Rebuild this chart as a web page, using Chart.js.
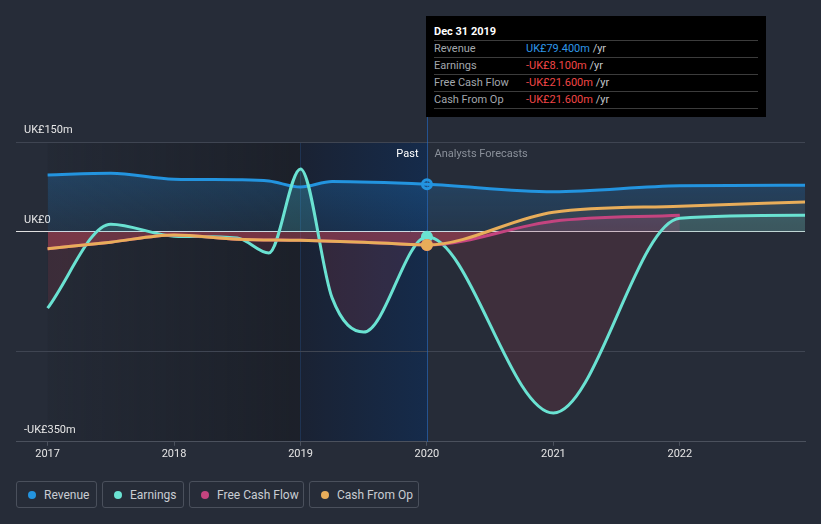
<!DOCTYPE html>
<html>
<head>
<meta charset="utf-8">
<script src="https://cdn.jsdelivr.net/npm/chart.js@4.4.0/dist/chart.umd.min.js"></script>
<style>
  html, body { margin: 0; padding: 0; background: #262c38; width: 821px; height: 524px; overflow: hidden; font-family: Roboto, sans-serif; }
  #wrap { position: relative; width: 821px; height: 524px; }
  #chart { position: absolute; left: 0; top: 0; }
  .tip { position: absolute; left: 426px; top: 16px; width: 340px; height: 101px; background: #000; }
  .tip .title { position: absolute; left: 8px; top: 8px; line-height: 15px; font-size: 11px; font-weight: bold; color: #fff; }
  .tip .rows { position: absolute; left: 8px; top: 24px; width: 324px; border-bottom: 1px solid #3c3c3c; }
  .tip .row { height: 16px; line-height: 16px; border-top: 1px solid #3c3c3c; font-size: 11px; color: #a3a7ad; white-space: nowrap; }
  .tip .row span.lbl { display: inline-block; width: 92px; }
  .tip .pos { color: #2e96e6; }
  .tip .neg { color: #f04646; }
  .tip .unit { color: #c4c6ca; }
  .legend { position: absolute; left: 16px; top: 481px; display: flex; gap: 5px; }
  .legend .item { box-sizing: border-box; height: 27px; border: 1px solid #4a505c; border-radius: 3px; padding-left: 11px; display: flex; align-items: center; font-size: 12px; color: #c9cdd3; }
  .legend .dot { width: 8px; height: 8px; border-radius: 50%; margin-right: 8px; }
</style>
</head>
<body>
<div id="wrap">
  <canvas id="chart" width="821" height="470"></canvas>
  <div class="tip">
    <div class="title">Dec 31 2019</div>
    <div class="rows">
      <div class="row"><span class="lbl">Revenue</span><span class="pos">UK£79.400m</span> <span class="unit">/yr</span></div>
      <div class="row"><span class="lbl">Earnings</span><span class="neg">-UK£8.100m</span> <span class="unit">/yr</span></div>
      <div class="row"><span class="lbl">Free Cash Flow</span><span class="neg">-UK£21.600m</span> <span class="unit">/yr</span></div>
      <div class="row"><span class="lbl">Cash From Op</span><span class="neg">-UK£21.600m</span> <span class="unit">/yr</span></div>
    </div>
  </div>
  <div class="legend">
    <div class="item" style="width:81px"><span class="dot" style="background:#2394df"></span>Revenue</div>
    <div class="item" style="width:82px"><span class="dot" style="background:#6ae2d2"></span>Earnings</div>
    <div class="item" style="width:115px"><span class="dot" style="background:#c4447f"></span>Free Cash Flow</div>
    <div class="item" style="width:110px"><span class="dot" style="background:#e8ad5a"></span>Cash From Op</div>
  </div>
</div>
<script>
// values in UK£m
const revenueYears = [2017, 2017.5, 2018, 2018.5, 2018.75, 2019, 2019.25, 2020, 2021, 2022, 2023];
const revenueValues = [95, 98, 88, 87, 85, 75, 84, 79.4, 67, 77, 78];

const earningsYears = [2017, 2017.5, 2018, 2018.5, 2018.75, 2019, 2019.25, 2019.5, 2020, 2021, 2022, 2023];
const earningsValues = [-127, 13, -7, -10, -35, 105, -110, -167, -8.1, -302, 23, 28];

const fcfYears = [2017, 2017.5, 2018, 2018.5, 2019, 2019.5, 2020, 2021, 2022];
const fcfValues = [-28, -17, -5, -12, -14, -17, -21.6, 18, 28];

const cfoYears = [2017, 2017.5, 2018, 2018.5, 2019, 2019.5, 2020, 2021, 2022, 2023];
const cfoValues = [-28, -17, -5, -12, -14, -17, -21.6, 33, 43, 50];

const xTicks = [2017, 2018, 2019, 2020, 2021, 2022];
const yTicks = [-350, -200, 0, 150];
const yMin = -350, yMax = 150;
const xMin = 2016.75, xMax = 2022.99;
const pastStart = 2017, shadeSplit = 2019, nowYear = 2020;

function pts(xs, ys) {
    return xs.map((x, i) => ({ x: x, y: ys[i] }));
}

function yLabel(v) {
    if (v === 0) return 'UK£0';
    if (v === -200) return '';
    return (v < 0 ? '-' : '') + 'UK£' + Math.abs(v) + 'm';
}

function revenueFill(ctx) {
    const chart = ctx.chart;
    if (!chart.chartArea) return 'rgba(33,150,243,0.18)';
    const y = chart.scales.y;
    const g = chart.ctx.createLinearGradient(0, y.getPixelForValue(yMax), 0, y.getPixelForValue(0));
    g.addColorStop(0, 'rgba(33,150,243,0.30)');
    g.addColorStop(1, 'rgba(33,150,243,0.10)');
    return g;
}

function hoverRadius(ctx) {
    return ctx.raw && ctx.raw.x === nowYear ? 4.5 : 0;
}

const shade = {
    id: 'shade',
    beforeDraw(chart) {
        const { ctx, chartArea: a, scales: { x } } = chart;
        const x0 = x.getPixelForValue(pastStart);
        const x1 = x.getPixelForValue(shadeSplit);
        const x2 = x.getPixelForValue(nowYear);
        ctx.save();
        let g = ctx.createLinearGradient(x0, 0, x1, 0);
        g.addColorStop(0, 'rgba(16,18,24,0.08)');
        g.addColorStop(1, 'rgba(16,18,24,0.45)');
        ctx.fillStyle = g;
        ctx.fillRect(x0, a.top, x1 - x0, a.bottom - a.top);
        g = ctx.createLinearGradient(x1, 0, x2, 0);
        g.addColorStop(0, '#1a2233');
        g.addColorStop(1, '#152b4b');
        ctx.fillStyle = g;
        ctx.fillRect(x1, a.top, x2 - x1, a.bottom - a.top);
        ctx.strokeStyle = 'rgba(40,110,200,0.22)';
        ctx.lineWidth = 1;
        ctx.beginPath();
        ctx.moveTo(Math.round(x1) + 0.5, a.top);
        ctx.lineTo(Math.round(x1) + 0.5, a.bottom);
        ctx.stroke();
        ctx.restore();
    },
    beforeDatasetsDraw(chart) {
        const { ctx, chartArea: a, scales: { x } } = chart;
        const x2 = Math.round(x.getPixelForValue(nowYear)) + 0.5;
        ctx.save();
        ctx.strokeStyle = 'rgba(35,110,205,0.6)';
        ctx.lineWidth = 1;
        ctx.beginPath();
        ctx.moveTo(x2, 16);
        ctx.lineTo(x2, a.bottom);
        ctx.stroke();
        ctx.font = '11px Roboto';
        ctx.textBaseline = 'middle';
        ctx.textAlign = 'right';
        ctx.fillStyle = '#ffffff';
        ctx.fillText('Past', x2 - 9, a.top + 12);
        ctx.textAlign = 'left';
        ctx.fillStyle = '#8a909a';
        ctx.fillText('Analysts Forecasts', x2 + 7, a.top + 12);
        ctx.restore();
    }
};

const chart = new Chart(document.getElementById('chart'), {
    type: 'line',
    data: {
        datasets: [{
            label: 'Revenue',
            data: pts(revenueYears, revenueValues),
            borderColor: '#2394df',
            backgroundColor: revenueFill,
            fill: 'origin',
            borderWidth: 3,
            order: 4
        }, {
            label: 'Earnings',
            data: pts(earningsYears, earningsValues),
            borderColor: '#6ae2d2',
            backgroundColor: '#6ae2d2',
            fill: { target: 'origin', above: 'rgba(100,225,205,0.15)', below: 'rgba(200,70,90,0.15)' },
            borderWidth: 3,
            order: 3
        }, {
            label: 'Free Cash Flow',
            data: pts(fcfYears, fcfValues),
            borderColor: '#c4447f',
            backgroundColor: '#c4447f',
            fill: { target: 'origin', above: 'rgba(198,74,134,0.2)', below: 'rgba(200,70,90,0.25)' },
            borderWidth: 3,
            order: 2
        }, {
            label: 'Cash From Op',
            data: pts(cfoYears, cfoValues),
            borderColor: '#e8ad5a',
            backgroundColor: '#e8ad5a',
            fill: { target: 'origin', above: 'rgba(232,176,96,0.08)', below: 'rgba(200,70,90,0.25)' },
            borderWidth: 3,
            order: 1
        }]
    },
    options: {
        responsive: false,
        animation: false,
        devicePixelRatio: 1,
        layout: { padding: { left: 16, right: 16, top: 142, bottom: 7 } },
        elements: {
            line: { cubicInterpolationMode: 'monotone' },
            point: {
                radius: hoverRadius,
                hoverRadius: hoverRadius,
                borderColor: '#e8e8e8',
                borderWidth: 1.5,
                backgroundColor: (ctx) => ctx.dataset.borderColor
            }
        },
        plugins: {
            legend: { display: false },
            tooltip: { enabled: false },
            filler: { drawTime: 'beforeDatasetsDraw' }
        },
        scales: {
            x: {
                type: 'linear',
                min: xMin,
                max: xMax,
                afterBuildTicks: (s) => { s.ticks = xTicks.map(v => ({ value: v })); },
                ticks: {
                    color: '#e6e6e6',
                    font: { family: 'Roboto', size: 11 },
                    padding: 2,
                    autoSkip: false,
                    maxRotation: 0,
                    callback: (v) => String(v)
                },
                grid: { drawOnChartArea: false, drawTicks: true, tickLength: 4, color: '#4b515d' },
                border: { color: '#4b515d' }
            },
            y: {
                min: yMin,
                max: yMax,
                afterBuildTicks: (s) => { s.ticks = yTicks.map(v => ({ value: v })); },
                afterFit: (s) => { s.width = 0; },
                ticks: {
                    mirror: true,
                    padding: 8,
                    labelOffset: -12,
                    color: '#e6e6e6',
                    font: { family: 'Roboto', size: 11 },
                    callback: yLabel
                },
                grid: {
                    drawTicks: false,
                    color: (ctx) => ctx.tick.value === 0 ? '#e0e0e0' : (ctx.tick.value === yMin ? 'rgba(0,0,0,0)' : '#3f4552')
                },
                border: { display: false }
            }
        }
    },
    plugins: [shade]
});
</script>
</body>
</html>
